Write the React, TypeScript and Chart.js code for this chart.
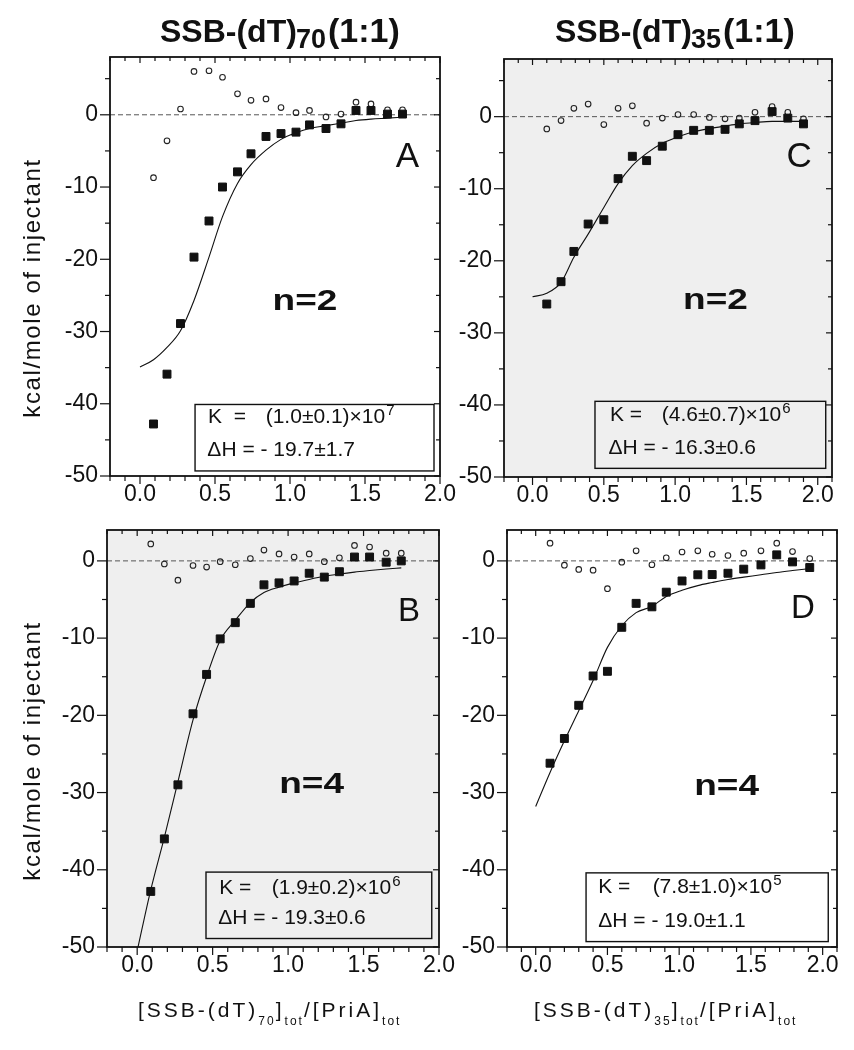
import React, { useEffect, useRef } from "react";
import { Chart, registerables } from "chart.js";

Chart.register(...registerables);

const FONT = '"Liberation Sans", Arial, Helvetica, sans-serif';

// ---- tick labels ----
const xTickValues = [0, 0.5, 1.0, 1.5, 2.0];
const yTickValues = [-50, -40, -30, -20, -10, 0];

// ---- Panel A : SSB-(dT)70, n=2 ----
const xA = [0.09, 0.18, 0.27, 0.36, 0.46, 0.55, 0.65, 0.74, 0.84, 0.94, 1.04, 1.13, 1.24, 1.34, 1.44, 1.54, 1.65, 1.75];
const heatA = [-42.8, -35.9, -28.9, -19.7, -14.7, -10.0, -7.9, -5.4, -3.0, -2.6, -2.4, -1.4, -1.9, -1.25, 0.6, 0.6, 0.1, 0.1];
const dilA = [-8.7, -3.6, 0.8, 6.0, 6.1, 5.2, 2.9, 2.0, 2.2, 1.0, 0.3, 0.6, -0.3, 0.1, 1.75, 1.5, 0.7, 0.7];
const fitXA = [0, ...xA];
const fitA = [-34.9, -33.9, -32.2, -29.9, -25.7, -19.7, -14.1, -9.5, -6.9, -4.9, -3.4, -2.5, -1.9, -1.5, -1.15, -0.8, -0.6, -0.46, -0.32];

// ---- Panel C : SSB-(dT)35, n=2 ----
const xC = [0.10, 0.20, 0.29, 0.39, 0.50, 0.60, 0.70, 0.80, 0.91, 1.02, 1.13, 1.24, 1.35, 1.45, 1.56, 1.68, 1.79, 1.90];
const heatC = [-26.0, -22.9, -18.7, -14.9, -14.3, -8.6, -5.5, -6.1, -4.1, -2.5, -1.9, -1.9, -1.76, -1.0, -0.55, 0.7, -0.2, -1.0];
const dilC = [-1.7, -0.55, 1.15, 1.75, -1.1, 1.15, 1.5, -0.9, -0.2, 0.3, 0.3, -0.1, -0.3, -0.2, 0.6, 1.4, 0.6, -0.3];
const fitXC = [0, ...xC];
const fitC = [-25.0, -24.5, -23.0, -19.5, -16.3, -12.6, -9.3, -6.8, -5.1, -3.7, -2.8, -2.1, -1.66, -1.3, -1.0, -0.8, -0.65, -0.65, -0.65];

// ---- Panel B : SSB-(dT)70, n=4 ----
const xB = [0.09, 0.18, 0.27, 0.37, 0.46, 0.55, 0.65, 0.75, 0.84, 0.94, 1.04, 1.14, 1.24, 1.34, 1.44, 1.54, 1.65, 1.75];
const heatB = [-42.8, -36.0, -29.0, -19.8, -14.7, -10.1, -8.0, -5.5, -3.1, -2.85, -2.6, -1.6, -2.1, -1.4, 0.5, 0.5, -0.17, 0.0];
const dilB = [2.2, -0.4, -2.5, -0.6, -0.8, -0.1, -0.5, 0.3, 1.4, 0.9, 0.5, 0.9, -0.1, 0.4, 2.0, 1.8, 1.0, 1.0];
const fitXB = [0, ...xB];
const fitB = [-50.5, -42.6, -35.8, -28.6, -20.6, -15.0, -10.3, -7.7, -5.4, -4.1, -3.4, -2.85, -2.4, -2.0, -1.7, -1.45, -1.25, -1.05, -0.9];

// ---- Panel D : SSB-(dT)35, n=4 ----
const xD = [0.10, 0.20, 0.30, 0.40, 0.50, 0.60, 0.70, 0.81, 0.91, 1.02, 1.13, 1.23, 1.34, 1.45, 1.57, 1.68, 1.79, 1.91];
const heatD = [-26.2, -23.0, -18.7, -14.9, -14.3, -8.6, -5.5, -5.95, -4.05, -2.6, -1.8, -1.77, -1.6, -1.07, -0.52, 0.78, -0.13, -0.86];
const dilD = [2.3, -0.56, -1.1, -1.2, -3.6, -0.17, 1.3, -0.5, 0.4, 1.15, 1.3, 0.86, 0.7, 1.0, 1.3, 2.3, 1.2, 0.3];
const fitXD = [0, ...xD];
const fitD = [-31.8, -27.4, -23.3, -19.4, -15.5, -11.2, -8.4, -6.7, -5.9, -4.6, -3.8, -3.2, -2.8, -2.4, -2.1, -1.8, -1.5, -1.25, -1.0];

type Deco = {
  bg: string | null;
  letter: { text: string; x: number; y: number; size: number };
  nLabel: { text: string; x: number; y: number };
  box: { x0: number; x1: number; y0: number; y1: number };
  k: { x: number; y: number; eq: string; valX: number; val: string; exp: string };
  h: { x: number; y: number; text: string };
};

const decoA: Deco = {
  bg: null,
  letter: { text: "A", x: 1.783, y: -5.9, size: 35 },
  nLabel: { text: "n=2", x: 1.1, y: -25.8 },
  box: { x0: 0.367, x1: 1.96, y0: -40.1, y1: -49.3 },
  k: { x: 0.453, y: -42.7, eq: "K  =", valX: 0.838, val: "(1.0±0.1)×10", exp: "7" },
  h: { x: 0.449, y: -47.3, text: "ΔH = - 19.7±1.7" },
};
const decoC: Deco = {
  bg: "#efefef",
  letter: { text: "C", x: 1.869, y: -5.6, size: 35 },
  nLabel: { text: "n=2", x: 1.283, y: -25.5 },
  box: { x0: 0.438, x1: 2.056, y0: -39.5, y1: -48.8 },
  k: { x: 0.543, y: -42.2, eq: "K =", valX: 0.906, val: "(4.6±0.7)×10", exp: "6" },
  h: { x: 0.532, y: -46.8, text: "ΔH = - 16.3±0.6" },
};
const decoB: Deco = {
  bg: "#efefef",
  letter: { text: "B", x: 1.801, y: -6.6, size: 33 },
  nLabel: { text: "n=4", x: 1.156, y: -29.0 },
  box: { x0: 0.456, x1: 1.952, y0: -40.3, y1: -48.9 },
  k: { x: 0.544, y: -43.1, eq: "K =", valX: 0.891, val: "(1.9±0.2)×10", exp: "6" },
  h: { x: 0.537, y: -47.0, text: "ΔH = - 19.3±0.6" },
};
const decoD: Deco = {
  bg: null,
  letter: { text: "D", x: 1.863, y: -6.2, size: 33 },
  nLabel: { text: "n=4", x: 1.331, y: -29.2 },
  box: { x0: 0.351, x1: 2.039, y0: -40.4, y1: -49.3 },
  k: { x: 0.436, y: -43.0, eq: "K =", valX: 0.815, val: "(7.8±1.0)×10", exp: "5" },
  h: { x: 0.436, y: -47.4, text: "ΔH = - 19.0±1.1" },
};

type Panel = {
  id: string;
  left: number; top: number; width: number; height: number;
  area: { l: number; t: number; r: number; b: number };
  xMin: number; xMax: number; yMin: number; yMax: number;
  x: number[]; heat: number[]; dil: number[]; fitX: number[]; fit: number[];
  deco: Deco;
};

const panels: Panel[] = [
  { id: "A", left: 0, top: 0, width: 480, height: 520, area: { l: 110, t: 57, r: 440, b: 476 }, xMin: -0.2, xMax: 2.0, yMin: -50, yMax: 8, x: xA, heat: heatA, dil: dilA, fitX: fitXA, fit: fitA, deco: decoA },
  { id: "C", left: 420, top: 0, width: 434, height: 520, area: { l: 504, t: 59, r: 832, b: 477 }, xMin: -0.2, xMax: 2.1, yMin: -50, yMax: 8, x: xC, heat: heatC, dil: dilC, fitX: fitXC, fit: fitC, deco: decoC },
  { id: "B", left: 0, top: 500, width: 480, height: 500, area: { l: 107, t: 530, r: 439, b: 947 }, xMin: -0.2, xMax: 2.0, yMin: -50, yMax: 4, x: xB, heat: heatB, dil: dilB, fitX: fitXB, fit: fitB, deco: decoB },
  { id: "D", left: 420, top: 500, width: 434, height: 500, area: { l: 507, t: 530, r: 837, b: 947 }, xMin: -0.2, xMax: 2.1, yMin: -50, yMax: 4, x: xD, heat: heatD, dil: dilD, fitX: fitXD, fit: fitD, deco: decoD },
];

const decoPlugin = {
  id: "deco",
  beforeDraw(chart: any, _a: any, o: any) {
    const { ctx, chartArea: a } = chart;
    if (o && o.bg) {
      ctx.save();
      ctx.fillStyle = o.bg;
      ctx.fillRect(a.left, a.top, a.right - a.left, a.bottom - a.top);
      ctx.restore();
    }
  },
  afterDraw(chart: any, _a: any, o: any) {
    const { ctx, chartArea: a } = chart;
    const xs = chart.scales.x;
    const ys = chart.scales.y;
    const X = (v: number) => xs.getPixelForValue(v);
    const Y = (v: number) => ys.getPixelForValue(v);
    ctx.save();
    ctx.strokeStyle = "#111";
    ctx.lineWidth = 1.2;
    const line = (x1: number, y1: number, x2: number, y2: number) => {
      ctx.beginPath();
      ctx.moveTo(x1, y1);
      ctx.lineTo(x2, y2);
      ctx.stroke();
    };
    // x ticks every 0.1 (major every 0.5)
    for (let i = Math.ceil(xs.min * 10 - 1e-6); i <= Math.floor(xs.max * 10 + 1e-6); i++) {
      const v = i / 10;
      const px = X(v);
      const major = i % 5 === 0;
      line(px, a.bottom, px, a.bottom + (major ? 8 : 5));
      line(px, a.top, px, a.top + (major ? 6 : 4));
    }
    // y ticks every 5 (major every 10)
    for (let i = Math.ceil(ys.min / 5 - 1e-6); i <= Math.floor(ys.max / 5 + 1e-6); i++) {
      const v = i * 5;
      const py = Y(v);
      const major = i % 2 === 0;
      line(a.left - (major ? 10 : 5), py, a.left, py);
      line(a.right - (major ? 6 : 4), py, a.right, py);
    }
    // frame
    ctx.lineWidth = 1.8;
    ctx.strokeRect(a.left, a.top, a.right - a.left, a.bottom - a.top);

    const d: Deco = o;
    // stats box
    ctx.lineWidth = 1.4;
    ctx.strokeRect(X(d.box.x0), Y(d.box.y0), X(d.box.x1) - X(d.box.x0), Y(d.box.y1) - Y(d.box.y0));

    ctx.fillStyle = "#111";
    // panel letter
    ctx.font = `${d.letter.size}px ${FONT}`;
    ctx.textAlign = "center";
    ctx.textBaseline = "middle";
    ctx.fillText(d.letter.text, X(d.letter.x), Y(d.letter.y));
    // n label (bold, slightly flattened)
    ctx.save();
    ctx.translate(X(d.nLabel.x), Y(d.nLabel.y));
    ctx.scale(1, 0.82);
    ctx.font = `bold 37px ${FONT}`;
    ctx.fillText(d.nLabel.text, 0, 0);
    ctx.restore();
    // K line
    ctx.textAlign = "left";
    ctx.textBaseline = "alphabetic";
    ctx.font = `21px ${FONT}`;
    ctx.fillText(d.k.eq, X(d.k.x), Y(d.k.y));
    const vx = X(d.k.valX);
    ctx.fillText(d.k.val, vx, Y(d.k.y));
    const w = ctx.measureText(d.k.val).width;
    ctx.font = `15px ${FONT}`;
    ctx.fillText(d.k.exp, vx + w + 1, Y(d.k.y) - 8);
    // dH line
    ctx.font = `21px ${FONT}`;
    ctx.fillText(d.h.text, X(d.h.x), Y(d.h.y));
    ctx.restore();
  },
};

function buildConfig(p: Panel): any {
  const pts = (xs: number[], ys: number[]) => xs.map((x, i) => ({ x, y: ys[i] }));
  const tickFont = { family: FONT, size: 23 };
  return {
    type: "scatter",
    data: {
      datasets: [
        {
          label: "heat",
          data: pts(p.x, p.heat),
          pointStyle: "rect",
          pointRadius: 5.6,
          backgroundColor: "#111",
          borderColor: "#111",
          borderWidth: 1,
          showLine: false,
        },
        {
          label: "dilution",
          data: pts(p.x, p.dil),
          pointStyle: "circle",
          pointRadius: 2.8,
          backgroundColor: "rgba(0,0,0,0)",
          borderColor: "#222",
          borderWidth: 1.1,
          showLine: false,
        },
        {
          label: "fit",
          type: "line",
          data: pts(p.fitX, p.fit),
          borderColor: "#111",
          borderWidth: 1.1,
          pointRadius: 0,
          cubicInterpolationMode: "monotone",
          fill: false,
        },
        {
          label: "zero",
          type: "line",
          data: [{ x: p.xMin, y: 0 }, { x: p.xMax, y: 0 }],
          borderColor: "#555",
          borderWidth: 1,
          borderDash: [5, 3],
          pointRadius: 0,
          fill: false,
        },
      ],
    },
    options: {
      animation: false,
      responsive: false,
      maintainAspectRatio: false,
      events: [],
      layout: {
        padding: {
          top: p.area.t - p.top,
          right: p.left + p.width - p.area.r,
          left: 0,
          bottom: 0,
        },
      },
      plugins: {
        legend: { display: false },
        tooltip: { enabled: false },
        deco: { ...p.deco },
      },
      scales: {
        x: {
          type: "linear",
          position: "bottom",
          min: p.xMin,
          max: p.xMax,
          grid: { display: false, drawTicks: false },
          border: { display: false },
          ticks: {
            font: tickFont,
            color: "#111",
            padding: 5,
            maxRotation: 0,
            autoSkip: false,
            callback: (v: any) => Number(v).toFixed(1),
          },
          afterBuildTicks: (s: any) => {
            s.ticks = xTickValues.map((v) => ({ value: v }));
          },
          afterFit: (s: any) => {
            s.height = p.top + p.height - p.area.b;
          },
        },
        y: {
          type: "linear",
          position: "left",
          min: p.yMin,
          max: p.yMax,
          grid: { display: false, drawTicks: false },
          border: { display: false },
          ticks: {
            font: tickFont,
            color: "#111",
            padding: 12,
            autoSkip: false,
            callback: (v: any) => String(v),
          },
          afterBuildTicks: (s: any) => {
            s.ticks = yTickValues.map((v) => ({ value: v }));
          },
          afterFit: (s: any) => {
            s.width = p.area.l - p.left;
          },
        },
      },
    },
    plugins: [decoPlugin],
  };
}

function PanelChart({ p }: { p: Panel }) {
  const ref = useRef<HTMLCanvasElement | null>(null);
  useEffect(() => {
    if (!ref.current) return;
    const chart = new Chart(ref.current, buildConfig(p));
    return () => chart.destroy();
  }, [p]);
  return (
    <canvas
      ref={ref}
      width={p.width}
      height={p.height}
      style={{ position: "absolute", left: p.left, top: p.top, width: p.width, height: p.height }}
    />
  );
}

function Txt(props: { x: number; base: number; size: number; bold?: boolean; ls?: number; children: any }) {
  const { x, base, size, bold, ls, children } = props;
  return (
    <div
      style={{
        position: "absolute",
        left: x,
        top: base - 0.8465 * size,
        fontFamily: FONT,
        fontSize: size,
        lineHeight: `${size}px`,
        fontWeight: bold ? 700 : 400,
        letterSpacing: ls ?? 0,
        whiteSpace: "nowrap",
        color: "#111",
      }}
    >
      {children}
    </div>
  );
}

const subStyle: React.CSSProperties = { fontSize: 12, position: "relative", top: 8, letterSpacing: 2 };

function XTitle({ x, n }: { x: number; n: string }) {
  return (
    <Txt x={x} base={1017} size={21} ls={3}>
      [SSB-(dT)<span style={subStyle}>{n}</span>]<span style={subStyle}>tot</span>/[PriA]
      <span style={subStyle}>tot</span>
    </Txt>
  );
}

function YTitle({ cy }: { cy: number }) {
  return (
    <div
      style={{
        position: "absolute",
        left: 32,
        top: cy,
        transform: "translate(-50%, -50%) rotate(-90deg)",
        fontFamily: FONT,
        fontSize: 24,
        lineHeight: "24px",
        letterSpacing: 1.6,
        whiteSpace: "nowrap",
        color: "#111",
      }}
    >
      kcal/mole of injectant
    </div>
  );
}

function Title({ x, n }: { x: number; n: string }) {
  return (
    <>
      <Txt x={x} base={42} size={32} bold>
        SSB-(dT)
      </Txt>
      <Txt x={x + 136} base={48.5} size={27} bold>
        {n}
      </Txt>
      <Txt x={x + 168} base={42} size={34} bold>
        (1:1)
      </Txt>
    </>
  );
}

export default function App() {
  return (
    <div style={{ position: "absolute", left: 0, top: 0, width: 854, height: 1050, background: "#fff", overflow: "hidden" }}>
      {panels.map((p) => (
        <PanelChart key={p.id} p={p} />
      ))}
      <Title x={160} n="70" />
      <Title x={555} n="35" />
      <YTitle cy={288} />
      <YTitle cy={751} />
      <XTitle x={138} n="70" />
      <XTitle x={534} n="35" />
    </div>
  );
}
